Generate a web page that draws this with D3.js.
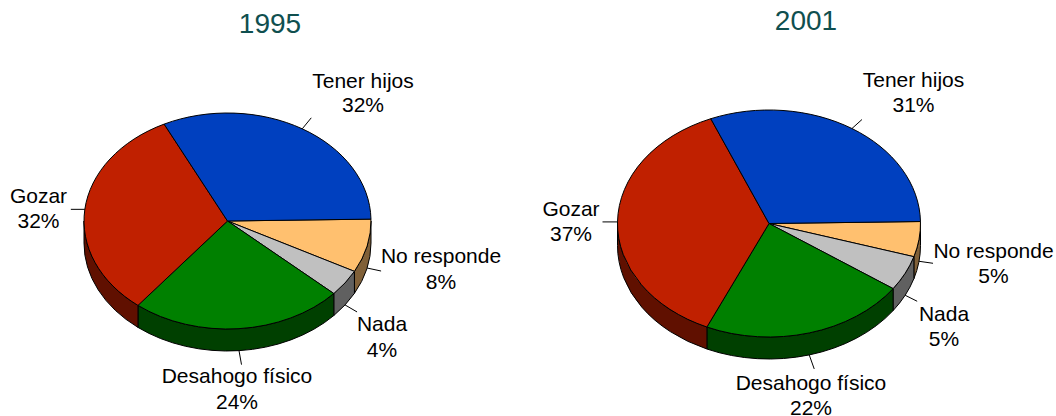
<!DOCTYPE html>
<html>
<head>
<meta charset="utf-8">
<script src="https://cdn.jsdelivr.net/npm/d3@7"></script>
<style>
  html, body { margin: 0; padding: 0; background: #fff; }
  svg { display: block; }
  text { font-family: "Liberation Sans", Arial, sans-serif; fill: #000; }
</style>
</head>
<body>
<div id="chart"></div>
<script>
// clockwise from the east edge, same order in both years
const categories = ["No responde", "Nada", "Desahogo físico", "Gozar", "Tener hijos"];
const values1995 = [8, 4, 24, 32, 32];
const values2001 = [5, 5, 22, 37, 31];

const topColors = ["#FFC06F", "#C0C0C0", "#008000", "#C02000", "#0040BF"];
const sideColors = ["#806038", "#606060", "#004000", "#601000", "#002060"];

const width = 1056, height = 416;
const depth = 22;
const rotation = -Math.PI / 180; // the first slice starts a touch above east

// label block: x, first baseline, second baseline; leader line: dx, dy
const layout1995 = {
  title: "1995", titleX: 270, titleY: 33,
  cx: 227.5, cy: 221, rx: 143.5, ry: 108,
  labels: [[441, 263, 289], [382, 331, 357], [237, 383, 409], [38.5, 203, 228], [363, 88, 112]],
  leaders: [[14, 3], [12, 7], [2.5, 14], [-14, 0], [9, -11]]
};
const layout2001 = {
  title: "2001", titleX: 806, titleY: 30,
  cx: 769, cy: 223.5, rx: 151.5, ry: 113.5,
  labels: [[993.5, 258, 283], [944, 321, 346], [811, 390, 415], [571, 216, 241], [913.5, 87, 112]],
  leaders: [[14, 2], [12, 6], [5, 14], [-15, 0], [10, -9]]
};

const svg = d3.select("#chart").append("svg")
  .attr("width", width)
  .attr("height", height);

const pie = d3.pie()
  .sort(null)
  .startAngle(Math.PI / 2 + rotation)
  .endAngle(Math.PI / 2 + rotation + 2 * Math.PI);

const arc = d3.arc().innerRadius(0).outerRadius(100);

function drawPie(values, conf) {
  const arcs = pie(values);
  const g = svg.append("g");

  // point on the ellipse, angle measured clockwise from the east edge
  const px = t => conf.cx + conf.rx * Math.cos(t);
  const py = t => conf.cy + conf.ry * Math.sin(t);

  g.append("text")
    .attr("x", conf.titleX)
    .attr("y", conf.titleY)
    .attr("text-anchor", "middle")
    .style("font-size", "28px")
    .style("fill", "#0F4F4F")
    .text(conf.title);

  // side wall, only the lower half of the rim shows
  g.selectAll("path.side")
    .data(arcs.filter(d => d.startAngle - Math.PI / 2 < Math.PI))
    .enter()
    .append("path")
    .attr("class", "side")
    .attr("fill", d => sideColors[d.index])
    .attr("stroke", "#000")
    .attr("stroke-width", 1)
    .attr("d", d => {
      const t0 = Math.max(d.startAngle - Math.PI / 2, 0);
      const t1 = Math.min(d.endAngle - Math.PI / 2, Math.PI);
      return "M" + px(t0) + "," + py(t0)
        + "A" + conf.rx + "," + conf.ry + " 0 0 1 " + px(t1) + "," + py(t1)
        + "L" + px(t1) + "," + (py(t1) + depth)
        + "A" + conf.rx + "," + conf.ry + " 0 0 0 " + px(t0) + "," + (py(t0) + depth)
        + "Z";
    });

  g.selectAll("path.top")
    .data(arcs)
    .enter()
    .append("path")
    .attr("class", "top")
    .attr("transform", "translate(" + conf.cx + "," + conf.cy + ") scale(" + conf.rx / 100 + "," + conf.ry / 100 + ")")
    .attr("fill", d => topColors[d.index])
    .attr("stroke", "#000")
    .attr("stroke-width", 1)
    .attr("vector-effect", "non-scaling-stroke")
    .attr("d", arc);

  // leader lines start at the middle of the slice on the rim
  const leaderStart = d => {
    const t = (d.startAngle + d.endAngle) / 2 - Math.PI / 2;
    const onWall = Math.sin(t) > 0 ? depth : 0;
    return [px(t), py(t) + onWall];
  };

  g.selectAll("line.leader")
    .data(arcs)
    .enter()
    .append("line")
    .attr("class", "leader")
    .attr("stroke", "#000")
    .attr("stroke-width", 1)
    .attr("x1", d => leaderStart(d)[0])
    .attr("y1", d => leaderStart(d)[1])
    .attr("x2", d => leaderStart(d)[0] + conf.leaders[d.index][0])
    .attr("y2", d => leaderStart(d)[1] + conf.leaders[d.index][1]);

  const label = g.selectAll("text.label")
    .data(arcs)
    .enter()
    .append("text")
    .attr("class", "label")
    .attr("text-anchor", "middle")
    .style("font-size", "21px");

  label.append("tspan")
    .attr("x", d => conf.labels[d.index][0])
    .attr("y", d => conf.labels[d.index][1])
    .text(d => categories[d.index]);

  label.append("tspan")
    .attr("x", d => conf.labels[d.index][0])
    .attr("y", d => conf.labels[d.index][2])
    .text(d => d.value + "%");
}

drawPie(values1995, layout1995);
drawPie(values2001, layout2001);
</script>
</body>
</html>
